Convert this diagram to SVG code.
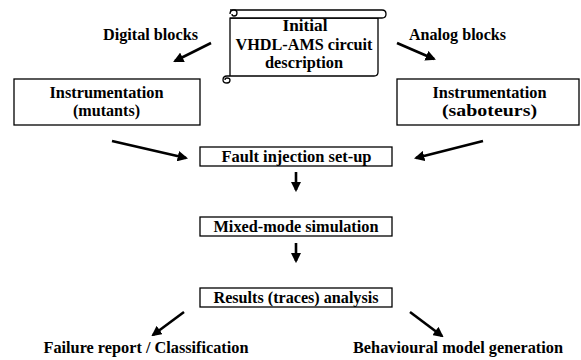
<svg xmlns="http://www.w3.org/2000/svg" width="581" height="360" viewBox="0 0 581 360">
<style>
.t{font-family:"Liberation Serif","Times New Roman",serif;font-weight:700;font-size:16.5px;fill:#000;text-anchor:middle}
.box{fill:#fff;stroke:#000;stroke-width:1.3}
.scroll{fill:#fff;stroke:#000;stroke-width:1.3;stroke-linejoin:round}
.arr{fill:none;stroke:#000;stroke-width:2.6;marker-end:url(#ah)}
</style>
<defs>
<marker id="ah" markerWidth="4" markerHeight="4" refX="3.2" refY="2" orient="auto" markerUnits="strokeWidth" viewBox="0 0 4 4">
<path d="M0,0 L4,2 L0,4 Z" fill="#000"/>
</marker>
</defs>
<rect width="581" height="360" fill="#fff"/>
<g id="scroll">
<path class="scroll" d="M230,18 L230,76 L374,76 Q378,76 378,72 L378,18 Z"/>
<path class="scroll" d="M230,10 L382,10 Q386,10 386,14 Q386,18 382,18 L230,18"/>
<path class="scroll" d="M230,14 Q230,10 234,10 Q237,10 237,13 Q237,16 234,16 Q232,16 232,14"/>
<path class="scroll" d="M230,76 L227,76 Q223,76 223,80 Q223,83 227,83 Q230,83 230,80 Q230,78 227,78 Q225,78 225,80"/>
<text class="t" x="305" y="31" textLength="45" lengthAdjust="spacingAndGlyphs">Initial</text>
<text class="t" x="304" y="50" textLength="137" lengthAdjust="spacingAndGlyphs">VHDL-AMS circuit</text>
<text class="t" x="304" y="68" textLength="78" lengthAdjust="spacingAndGlyphs">description</text>
</g>
<g id="digital"><text class="t" x="150.5" y="40" textLength="95" lengthAdjust="spacingAndGlyphs">Digital blocks</text></g>
<g id="analog"><text class="t" x="457.5" y="40" textLength="97" lengthAdjust="spacingAndGlyphs">Analog blocks</text></g>
<g id="mutants">
<rect class="box" x="14" y="79" width="186" height="46"/>
<text class="t" x="106.5" y="98" textLength="114" lengthAdjust="spacingAndGlyphs">Instrumentation</text>
<text class="t" x="106.5" y="116" textLength="67" lengthAdjust="spacingAndGlyphs">(mutants)</text>
</g>
<g id="saboteurs">
<rect class="box" x="397" y="79" width="182" height="46"/>
<text class="t" x="489.5" y="98" textLength="114" lengthAdjust="spacingAndGlyphs">Instrumentation</text>
<text class="t" x="489.5" y="116" textLength="95" lengthAdjust="spacingAndGlyphs">(saboteurs)</text>
</g>
<g id="fault">
<rect class="box" x="200" y="147" width="192" height="19"/>
<text class="t" x="296.5" y="161.5" textLength="150" lengthAdjust="spacingAndGlyphs">Fault injection set-up</text>
</g>
<g id="mixed">
<rect class="box" x="200" y="217" width="192" height="19"/>
<text class="t" x="296" y="231.5" textLength="165" lengthAdjust="spacingAndGlyphs">Mixed-mode simulation</text>
</g>
<g id="results">
<rect class="box" x="200" y="288" width="192" height="19"/>
<text class="t" x="296" y="302.5" textLength="165" lengthAdjust="spacingAndGlyphs">Results (traces) analysis</text>
</g>
<g id="failure"><text class="t" x="146" y="353" textLength="205" lengthAdjust="spacingAndGlyphs">Failure report / Classification</text></g>
<g id="behav"><text class="t" x="458" y="353" textLength="210" lengthAdjust="spacingAndGlyphs">Behavioural model generation</text></g>
<g id="connectors">
<line class="arr" x1="211" y1="43" x2="175" y2="61"/>
<line class="arr" x1="397" y1="43" x2="434" y2="59"/>
<line class="arr" x1="112" y1="141" x2="186" y2="158"/>
<line class="arr" x1="483" y1="141" x2="416" y2="158"/>
<line class="arr" x1="296" y1="172" x2="296" y2="190"/>
<line class="arr" x1="296" y1="243" x2="296" y2="261"/>
<line class="arr" x1="184" y1="312" x2="153" y2="335"/>
<line class="arr" x1="410" y1="312" x2="442" y2="336"/>
</g>
</svg>
